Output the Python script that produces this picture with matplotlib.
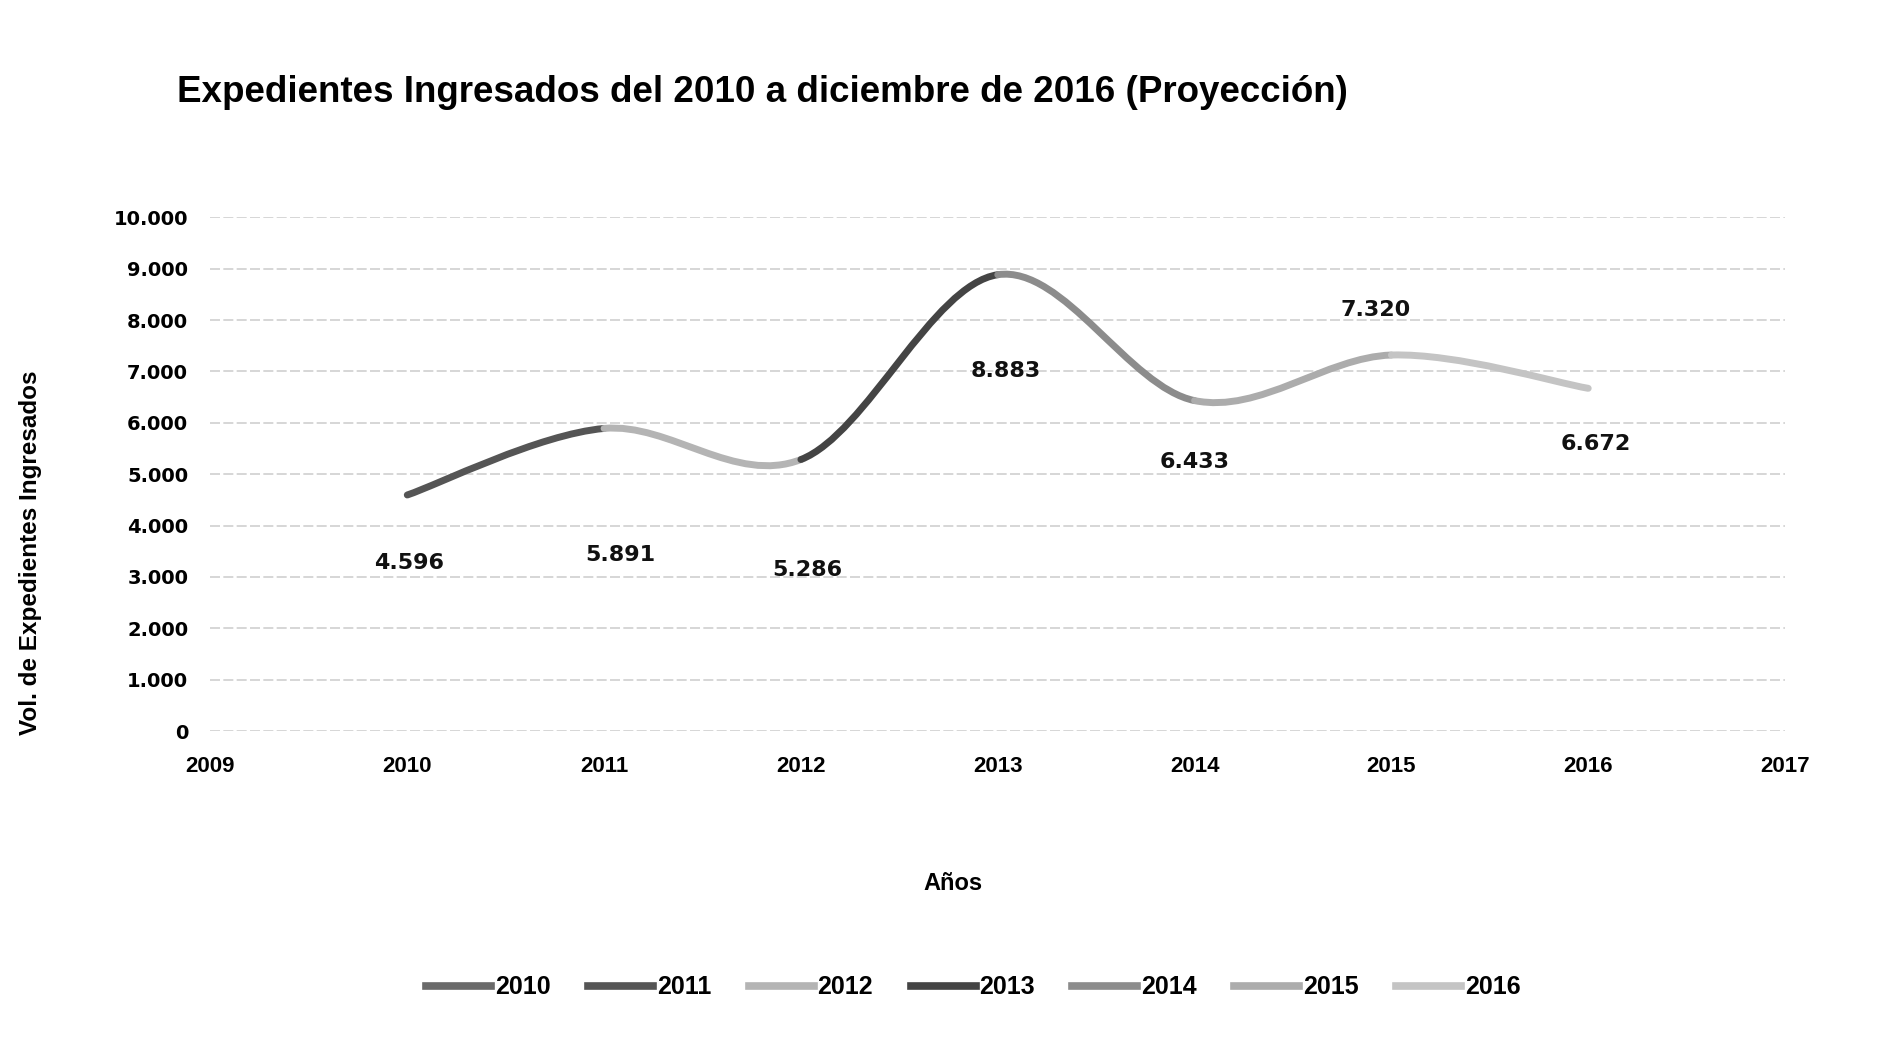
import numpy as np
import matplotlib
matplotlib.use('Agg')
import matplotlib.pyplot as plt
from matplotlib.path import Path
from matplotlib.patches import PathPatch
from matplotlib.lines import Line2D

# data
years = [2010, 2011, 2012, 2013, 2014, 2015, 2016]
expedientes = [4596, 5891, 5286, 8883, 6433, 7320, 6672]
series_labels = ['2010', '2011', '2012', '2013', '2014', '2015', '2016']
series_colors = ['#6a6a6a', '#555555', '#b4b4b4', '#444444', '#8c8c8c', '#acacac', '#c4c4c4']

title = 'Expedientes Ingresados del 2010 a diciembre de 2016 (Proyección)'
ylabel = 'Vol. de Expedientes Ingresados'
xlabel = 'Años'

narrow = ['Liberation Sans', 'DejaVu Sans']


def fmt_miles(v):
    return '{:,.0f}'.format(v).replace(',', '.')


fig = plt.figure(figsize=(18.79, 10.55), dpi=100)
ax = fig.add_axes([0.112, 0.307, 0.838, 0.487])

ax.set_xlim(2009, 2017)
ax.set_ylim(0, 10000)
ax.set_yticks(range(0, 10001, 1000))
ax.set_xticks(range(2009, 2018))
ax.set_yticklabels([fmt_miles(v) for v in range(0, 10001, 1000)],
                   fontsize=14, fontweight='bold', family='DejaVu Sans')
ax.set_xticklabels([str(y) for y in range(2009, 2018)],
                   fontsize=16, fontweight='bold', family=narrow)
ax.tick_params(length=0, pad=16)
ax.tick_params(axis='x', pad=18)
ax.grid(axis='y', color='#cfcfcf', lw=1.2, ls=(0, (6, 2)))
ax.set_axisbelow(True)
for s in ax.spines.values():
    s.set_visible(False)

# smoothed line (Excel style), each segment in its own colour
x = np.array(years, dtype=float)
y = np.array(expedientes, dtype=float)
n = len(x)
for i in range(n - 1):
    p0 = np.array([x[max(i - 1, 0)], y[max(i - 1, 0)]])
    p1 = np.array([x[i], y[i]])
    p2 = np.array([x[i + 1], y[i + 1]])
    p3 = np.array([x[min(i + 2, n - 1)], y[min(i + 2, n - 1)]])
    c1 = p1 + (p2 - p0) / 6.0
    c2 = p2 - (p3 - p1) / 6.0
    path = Path([p1, c1, c2, p2], [Path.MOVETO, Path.CURVE4, Path.CURVE4, Path.CURVE4])
    ax.add_patch(PathPatch(path, fill=False, edgecolor=series_colors[i + 1],
                           lw=5, capstyle='round', zorder=3))

# data labels (offsets in pixels from the point)
offsets = [(2, -68), (16, -127), (6, -110), (8, -96), (0, -61), (-16, 45), (8, -56)]
for xi, yi, (dx, dy) in zip(years, expedientes, offsets):
    ax.annotate(fmt_miles(yi), (xi, yi), xytext=(dx, dy), textcoords='offset pixels',
                ha='center', va='center', fontsize=16, fontweight='bold',
                family='DejaVu Sans', color='#111111')

fig.text(0.4056, 0.912, title, ha='center', va='center', fontsize=26.5,
         fontweight='bold', family=narrow)
fig.text(0.016, 0.476, ylabel, ha='center', va='center', rotation=90,
         fontsize=17.5, fontweight='bold', family=narrow)
fig.text(0.507, 0.163, xlabel, ha='center', va='center', fontsize=17,
         fontweight='bold', family=narrow)

handles = [Line2D([], [], color=c, lw=5.5) for c in series_colors]
fig.legend(handles, series_labels, loc='center', bbox_to_anchor=(0.518, 0.064),
           ncol=7, frameon=False, handlelength=2.6, handletextpad=0.15,
           columnspacing=1.5, prop={'family': narrow, 'size': 18, 'weight': 'bold'})

fig.savefig('out.png', dpi=100, facecolor='white')
